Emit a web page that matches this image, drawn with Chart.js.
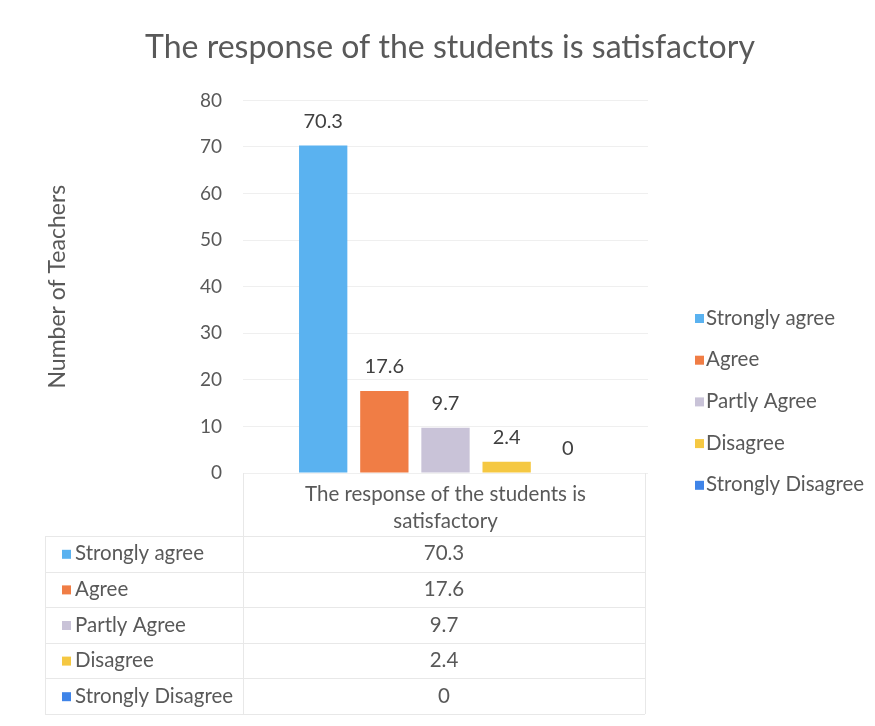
<!DOCTYPE html>
<html>
<head>
<meta charset="utf-8">
<script src="https://cdn.jsdelivr.net/npm/chart.js@4/dist/chart.umd.min.js"></script>
<style>
  html, body { margin: 0; padding: 0; background: #ffffff; }
  #wrap { position: relative; width: 875px; height: 726px; }
  canvas { display: block; }
</style>
</head>
<body>
<div id="wrap"><canvas id="c" width="875" height="726"></canvas></div>
<script>
const chartTitle = "The response of the students is satisfactory";
const categoryLabel = ["The response of the students is", "satisfactory"];
const seriesNames = ["Strongly agree", "Agree", "Partly Agree", "Disagree", "Strongly Disagree"];
const seriesValues = [70.3, 17.6, 9.7, 2.4, 0];
const seriesColors = ["#5AB2F0", "#F07D45", "#C9C3D8", "#F5C842", "#3F84E8"];
const yTicks = [0, 10, 20, 30, 40, 50, 60, 70, 80];
const yTitle = "Number of Teachers";

const FONT = "Lato, 'Open Sans', sans-serif";
const TXT = "#595959";
const FS = 20.5;

const datasets = seriesNames.map((n, i) => ({
  label: n,
  data: [seriesValues[i]],
  backgroundColor: seriesColors[i],
  borderWidth: 0,
  categoryPercentage: 0.755,
  barPercentage: 0.79
}));

const extrasPlugin = {
  id: 'extras',
  afterDatasetsDraw(chart) {
    const ctx = chart.ctx;
    const area = chart.chartArea;
    // data labels
    ctx.save();
    ctx.font = "20px " + FONT;
    ctx.fillStyle = "#404040";
    ctx.textAlign = "center";
    ctx.textBaseline = "middle";
    chart.data.datasets.forEach((ds, i) => {
      const meta = chart.getDatasetMeta(i);
      meta.data.forEach((bar, j) => {
        ctx.fillText(String(ds.data[j]), bar.x, bar.y - 24);
      });
    });
    ctx.restore();

    // legend on right
    ctx.save();
    ctx.font = FS + "px " + FONT;
    ctx.textBaseline = "middle";
    ctx.textAlign = "left";
    const lx = area.right + 47;
    const ly0 = 318, lstep = 41.7;
    chart.data.datasets.forEach((ds, i) => {
      const y = ly0 + i * lstep;
      ctx.fillStyle = ds.backgroundColor;
      ctx.fillRect(lx, y - 4, 9, 9);
      ctx.fillStyle = TXT;
      ctx.fillText(ds.label, lx + 11, y);
    });
    ctx.restore();

    // data table
    ctx.save();
    const left = 45, mid = area.left, right = area.right - 3;
    const top = area.bottom, headBottom = area.bottom + 63, rowH = 35.6;
    const n = chart.data.datasets.length;
    const bottom = headBottom + n * rowH;
    ctx.strokeStyle = "#E8E8E8";
    ctx.lineWidth = 1;
    ctx.beginPath();
    for (let r = 0; r <= n; r++) {
      const y = Math.round(headBottom + r * rowH) + 0.5;
      ctx.moveTo(left, y); ctx.lineTo(right, y);
    }
    ctx.moveTo(left + 0.5, headBottom); ctx.lineTo(left + 0.5, bottom);
    ctx.moveTo(mid + 0.5, top); ctx.lineTo(mid + 0.5, bottom);
    ctx.moveTo(right + 0.5, top); ctx.lineTo(right + 0.5, bottom);
    ctx.stroke();

    ctx.font = FS + "px " + FONT;
    ctx.textBaseline = "middle";
    chart.data.datasets.forEach((ds, i) => {
      const cy = headBottom + i * rowH + rowH / 2;
      ctx.fillStyle = ds.backgroundColor;
      ctx.fillRect(left + 17, cy - 4, 9, 9);
      ctx.fillStyle = TXT;
      ctx.textAlign = "left";
      ctx.fillText(ds.label, left + 30, cy);
      ctx.textAlign = "center";
      ctx.fillText(String(ds.data[0]), (mid + right) / 2, cy);
    });
    ctx.restore();
  }
};

new Chart(document.getElementById('c'), {
  type: 'bar',
  data: { labels: [categoryLabel], datasets },
  options: {
    responsive: false,
    animation: false,
    layout: { padding: { left: 25, right: 0, top: 0, bottom: 190 } },
    plugins: {
      legend: { display: false },
      tooltip: { enabled: false },
      title: {
        display: true,
        text: chartTitle,
        color: TXT,
        font: { family: FONT, size: 32, weight: 'normal' },
        padding: { top: 28, bottom: 34 }
      }
    },
    scales: {
      x: {
        grid: { display: false },
        border: { display: false },
        ticks: { color: TXT, font: { family: FONT, size: FS, lineHeight: 1.3 }, padding: 0, maxRotation: 0 },
        afterFit(s) { s.height = 63; }
      },
      y: {
        min: 0, max: 80,
        afterBuildTicks(s) { s.ticks = yTicks.map(v => ({ value: v })); },
        grid: { color: "#EFEFEF", drawTicks: false },
        border: { display: false },
        ticks: { color: TXT, font: { family: FONT, size: 19 }, padding: 21 },
        title: { display: true, text: yTitle, color: TXT, font: { family: FONT, size: 23 }, padding: { top: 19, bottom: 0 } },
        afterFit(s) { s.width = 218; }
      },
      yr: {
        position: 'right',
        display: true,
        grid: { display: false },
        border: { display: false },
        ticks: { display: false },
        afterFit(s) { s.width = 227; }
      }
    }
  },
  plugins: [extrasPlugin]
});
</script>
</body>
</html>
